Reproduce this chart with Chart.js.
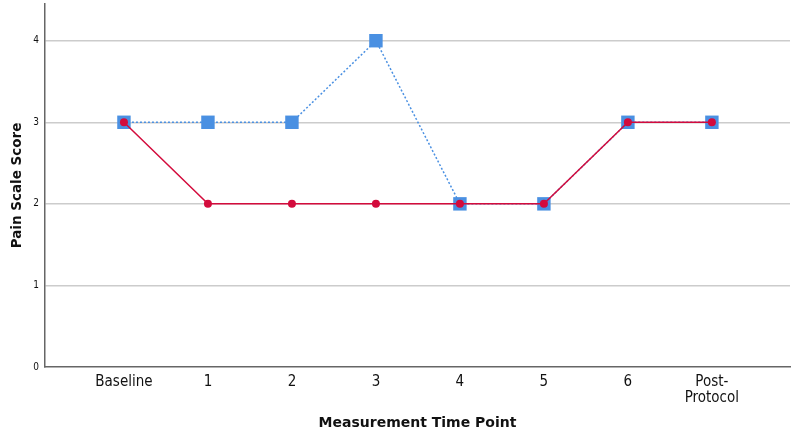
<!DOCTYPE html>
<html>
<head>
<meta charset="utf-8">
<script src="https://cdn.jsdelivr.net/npm/chart.js@4"></script>
<style>
  html, body { margin: 0; padding: 0; background: #fff; }
  #wrap { width: 796px; height: 436px; }
</style>
</head>
<body>
<div id="wrap"><canvas id="chart" width="796" height="436"></canvas></div>
<script>
const timePoints = ['Baseline', '1', '2', '3', '4', '5', '6', ['Post-', 'Protocol']];
const blueScores = [3, 3, 3, 4, 2, 2, 3, 3];
const redScores = [3, 2, 2, 2, 2, 2, 3, 3];
const yTicks = [0, 1, 2, 3, 4];

const toPoints = arr => arr.map((v, i) => ({ x: i, y: v }));

const ctx = document.getElementById('chart').getContext('2d');
new Chart(ctx, {
  type: 'line',
  data: {
    datasets: [
      {
        data: toPoints(redScores),
        borderColor: '#d30b3c',
        backgroundColor: '#d30b3c',
        borderWidth: 1.5,
        pointStyle: 'circle',
        pointRadius: 4,
        pointBorderWidth: 0,
        order: 1
      },
      {
        data: toPoints(blueScores),
        borderColor: '#4a90e2',
        backgroundColor: '#4a90e2',
        borderWidth: 1.5,
        borderDash: [2, 2],
        pointStyle: 'rect',
        pointRadius: 9.5,
        pointBorderWidth: 0,
        order: 2
      }
    ]
  },
  options: {
    responsive: false,
    animation: false,
    layout: { autoPadding: false, padding: { top: 4, right: 6, left: 0, bottom: 0 } },
    plugins: { legend: { display: false }, tooltip: { enabled: false } },
    scales: {
      x: {
        type: 'linear',
        min: -0.94,
        max: 7.93,
        afterBuildTicks: s => { s.ticks = timePoints.map((t, i) => ({ value: i })); },
        afterFit: s => { s.height = 69; s.paddingLeft = 0; s.paddingRight = 0; },
        grid: { display: false, drawTicks: false },
        border: { display: true, color: '#666', width: 1.5 },
        ticks: {
          color: '#111',
          font: { family: 'DejaVu Sans Condensed', size: 15, lineHeight: 1.05 },
          padding: 7,
          maxRotation: 0,
          autoSkip: false,
          callback: v => timePoints[v]
        },
        title: {
          display: true,
          text: 'Measurement Time Point',
          color: '#111',
          font: { family: 'DejaVu Sans', size: 14, weight: 'bold' },
          padding: { top: 4, bottom: 4 }
        }
      },
      y: {
        min: 0,
        max: 4.45,
        afterBuildTicks: s => { s.ticks = yTicks.map(v => ({ value: v })); },
        afterFit: s => { s.width = 45; s.paddingTop = 0; s.paddingBottom = 0; },
        grid: {
          drawTicks: false,
          color: c => c.tick && c.tick.value === 0 ? 'rgba(0,0,0,0)' : '#cccccc',
          lineWidth: 1.5
        },
        border: { display: true, color: '#666', width: 1.5 },
        ticks: { color: '#111', font: { family: 'DejaVu Sans Condensed', size: 10 }, padding: 6 },
        title: {
          display: true,
          text: 'Pain Scale Score',
          color: '#111',
          font: { family: 'DejaVu Sans', size: 13.5, weight: 'bold' },
          padding: { top: 9, bottom: 0 }
        }
      }
    }
  }
});
</script>
</body>
</html>
